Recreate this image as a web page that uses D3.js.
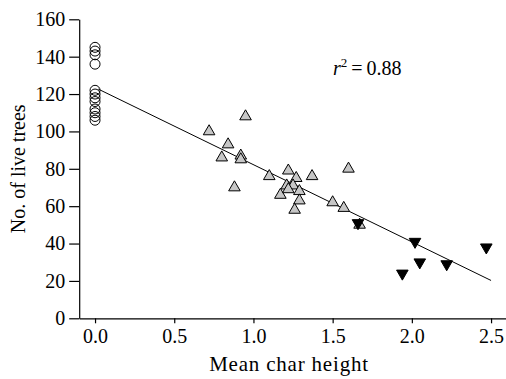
<!DOCTYPE html>
<html>
<head>
<meta charset="utf-8">
<script src="https://cdn.jsdelivr.net/npm/d3@7"></script>
</head>
<body style="margin:0">
<svg id="fig" width="506" height="379"></svg>
<script>
// Unburned plots (char height 0)
const unburnedX = [0, 0, 0, 0, 0, 0, 0, 0, 0, 0, 0, 0];
const unburnedY = [145, 143, 141, 136, 122, 120, 118, 116, 112, 110, 108, 106];

// Moderately burned plots
const moderateX = [0.95, 0.72, 0.84, 0.80, 0.92, 0.92, 0.88, 1.10, 1.22, 1.27, 1.37, 1.21,
                   1.25, 1.17, 1.22, 1.29, 1.29, 1.26, 1.50, 1.57, 1.60, 1.67];
const moderateY = [108, 100, 93, 86, 87, 85, 70, 76, 79, 75, 76, 71,
                   71, 66, 69, 68, 63, 58, 62, 59, 80, 50];

// Severely burned plots
const severeX = [1.66, 2.02, 2.47, 2.05, 2.22, 1.94];
const severeY = [51, 41, 38, 30, 29, 24];

// Least-squares fit
const fitIntercept = 123.5;
const fitSlope = -41.3;
const fitX = [0.02, 2.5];
const rSquared = 0.88;

const xTicks = [0, 0.5, 1.0, 1.5, 2.0, 2.5];
const yTicks = [0, 20, 40, 60, 80, 100, 120, 140, 160];

const FONT = "Liberation Serif";
const svg = d3.select("#fig");

const x = d3.scaleLinear().domain([-0.1, 2.6]).range([79.2, 506.9]);
const y = d3.scaleLinear().domain([0, 160]).range([318.3, 19.3]);

// Axes
const xAxis = d3.axisBottom(x).tickValues(xTicks).tickFormat(d3.format(".1f"))
  .tickSizeInner(5).tickSizeOuter(0).tickPadding(6);
const yAxis = d3.axisLeft(y).tickValues(yTicks).tickFormat(d3.format("d"))
  .tickSizeInner(10).tickSizeOuter(0).tickPadding(4);

const gx = svg.append("g").attr("transform", `translate(0,${y(0)})`).call(xAxis);
const gy = svg.append("g").attr("transform", `translate(${x(-0.1)},0)`).call(yAxis);

[gx, gy].forEach(g => {
  g.attr("font-family", FONT).attr("font-size", 20);
  g.selectAll("path.domain").attr("stroke", "#000").attr("stroke-width", 1.2);
  g.selectAll(".tick line").attr("stroke", "#000").attr("stroke-width", 1.2);
  g.selectAll(".tick text").attr("fill", "#000");
});

// Axis titles
svg.append("text")
  .attr("x", 289).attr("y", 371)
  .attr("text-anchor", "middle")
  .attr("font-family", FONT)
  .attr("font-size", 21)
  .attr("letter-spacing", 0.8)
  .text("Mean char height");

svg.append("text")
  .attr("transform", `translate(25,${(y(0) + y(160)) / 2}) rotate(-90)`)
  .attr("text-anchor", "middle")
  .attr("font-family", FONT)
  .attr("font-size", 20)
  .text("No. of live trees");

// Regression line
svg.append("line")
  .attr("x1", x(fitX[0])).attr("y1", y(fitIntercept + fitSlope * fitX[0]))
  .attr("x2", x(fitX[1])).attr("y2", y(fitIntercept + fitSlope * fitX[1]))
  .attr("stroke", "#000").attr("stroke-width", 1);

// Markers
const circleSym = d3.symbol().type(d3.symbolCircle).size(Math.PI * 5 * 5);
const triSym = d3.symbol().type(d3.symbolTriangle).size(58);

svg.append("g").selectAll("path")
  .data(moderateX.map((v, i) => [v, moderateY[i]]))
  .join("path")
  .attr("d", triSym)
  .attr("transform", d => `translate(${x(d[0])},${y(d[1])})`)
  .attr("fill", "#c6c6c6").attr("stroke", "#000").attr("stroke-width", 1);

svg.append("g").selectAll("path")
  .data(severeX.map((v, i) => [v, severeY[i]]))
  .join("path")
  .attr("d", triSym)
  .attr("transform", d => `translate(${x(d[0])},${y(d[1])}) rotate(180)`)
  .attr("fill", "#000").attr("stroke", "#000").attr("stroke-width", 1);

svg.append("g").selectAll("path")
  .data(unburnedX.map((v, i) => [v, unburnedY[i]]))
  .join("path")
  .attr("d", circleSym)
  .attr("transform", d => `translate(${x(d[0])},${y(d[1])})`)
  .attr("fill", "none").attr("stroke", "#000").attr("stroke-width", 1);

// Goodness-of-fit annotation
const ann = svg.append("text").attr("x", 333).attr("y", 75)
  .attr("font-family", FONT).attr("font-size", 20);
ann.append("tspan").attr("font-style", "italic").text("r");
ann.append("tspan").attr("dy", -8).attr("font-size", 13).text("2");
ann.append("tspan").attr("dy", 8).text("\u2009=\u2009" + rSquared.toFixed(2));
</script>
</body>
</html>
